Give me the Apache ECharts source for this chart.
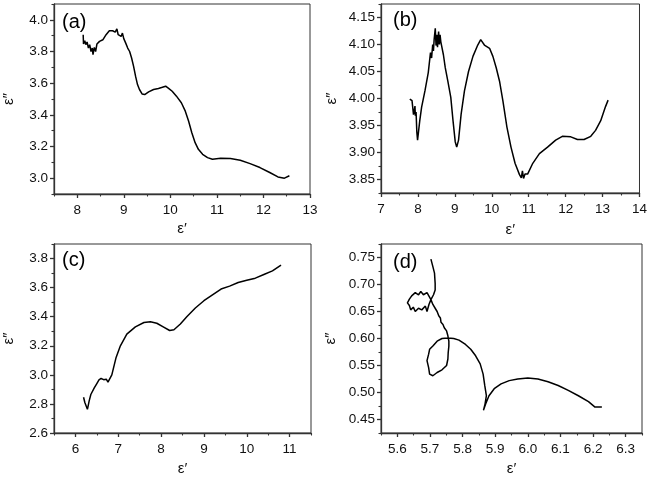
<!DOCTYPE html>
<html>
<head>
<meta charset="utf-8">
<script src="https://cdn.jsdelivr.net/npm/echarts@6/dist/echarts.min.js"></script>
<style>html,body{margin:0;padding:0;background:#fff}#c{width:650px;height:477px}</style>
</head>
<body>
<div id="c"></div>
<script>
// ---------- Panel (a) ----------
const aEps1 = [8.127,8.134,8.162,8.183,8.211,8.239,8.267,8.295,8.323,8.338,8.366,8.394,8.422,8.478,8.549,8.619,8.689,8.759,8.816,8.851,8.879,8.914,8.942,8.970,8.999,9.041,9.083,9.125,9.167,9.21,9.252,9.294,9.336,9.392,9.449,9.533,9.639,9.744,9.828,9.899,9.969,10.039,10.131,10.236,10.321,10.391,10.461,10.532,10.602,10.693,10.799,10.904,11.08,11.291,11.502,11.713,11.924,12.135,12.311,12.451,12.557];
const aEps2 = [3.906,3.847,3.868,3.843,3.860,3.822,3.843,3.800,3.822,3.780,3.826,3.800,3.847,3.864,3.874,3.906,3.931,3.931,3.922,3.943,3.906,3.916,3.895,3.916,3.881,3.853,3.822,3.800,3.759,3.706,3.644,3.591,3.560,3.532,3.528,3.545,3.560,3.566,3.574,3.581,3.566,3.549,3.518,3.476,3.423,3.361,3.287,3.224,3.182,3.151,3.130,3.119,3.126,3.124,3.113,3.092,3.067,3.036,3.008,3.000,3.015];
const aXTicks = ['8','9','10','11','12','13'];
const aXMinor = [7.5,8.5,9.5,10.5,11.5,12.5];
const aYTicks = ['3.0','3.2','3.4','3.6','3.8','4.0'];
const aYMinor = [2.9,3.1,3.3,3.5,3.7,3.9,4.1];

// ---------- Panel (b) ----------
const bEps1 = [7.78,7.84,7.88,7.90,7.92,7.93,7.95,7.97,7.99,8.02,8.05,8.10,8.19,8.28,8.34,8.37,8.40,8.42,8.44,8.47,8.49,8.51,8.53,8.56,8.58,8.60,8.62,8.69,8.74,8.81,8.89,8.95,9.01,9.05,9.10,9.17,9.26,9.37,9.49,9.62,9.70,9.80,9.94,10.03,10.12,10.21,10.30,10.41,10.52,10.63,10.75,10.80,10.83,10.86,10.90,10.97,11.11,11.29,11.51,11.73,11.91,12.14,12.32,12.50,12.68,12.81,12.95,13.08,13.15];
const bEps2 = [3.999,3.996,3.970,3.977,3.986,3.968,3.975,3.938,3.923,3.941,3.959,3.984,4.014,4.048,4.085,4.075,4.100,4.088,4.110,4.130,4.098,4.118,4.095,4.124,4.100,4.118,4.105,4.081,4.057,4.032,4.002,3.959,3.920,3.910,3.923,3.971,4.014,4.050,4.078,4.099,4.109,4.099,4.093,4.078,4.057,4.032,3.996,3.947,3.910,3.880,3.859,3.853,3.866,3.852,3.860,3.860,3.880,3.898,3.910,3.923,3.930,3.929,3.924,3.924,3.930,3.941,3.959,3.985,3.997];
const bXTicks = ['7','8','9','10','11','12','13','14'];
const bXMinor = [7.5,8.5,9.5,10.5,11.5,12.5,13.5];
const bYTicks = ['3.85','3.90','3.95','4.00','4.05','4.10','4.15'];
const bYMinor = [3.825,3.875,3.925,3.975,4.025,4.075,4.125,4.175];

// ---------- Panel (c) ----------
const cEps1 = [6.19,6.22,6.25,6.28,6.30,6.32,6.36,6.44,6.50,6.55,6.60,6.66,6.72,6.76,6.80,6.85,6.95,7.05,7.20,7.40,7.60,7.75,7.90,8.05,8.20,8.30,8.45,8.60,8.80,9.00,9.20,9.40,9.60,9.80,10.00,10.20,10.40,10.60,10.80];
const cEps2 = [2.846,2.810,2.797,2.763,2.790,2.819,2.865,2.910,2.940,2.965,2.975,2.967,2.970,2.950,2.960,3.000,3.120,3.200,3.280,3.330,3.360,3.365,3.355,3.330,3.305,3.310,3.350,3.400,3.460,3.510,3.550,3.590,3.610,3.635,3.650,3.665,3.690,3.715,3.755];
const cXTicks = ['6','7','8','9','10','11'];
const cXMinor = [5.5,6.5,7.5,8.5,9.5,10.5,11.5];
const cYTicks = ['2.6','2.8','3.0','3.2','3.4','3.6','3.8'];
const cYMinor = [2.7,2.9,3.1,3.3,3.5,3.7,3.9];

// ---------- Panel (d) ----------
const dEps1 = [5.703,5.709,5.714,5.716,5.722,5.716,5.711,5.703,5.699,5.691,5.680,5.672,5.665,5.655,5.644,5.637,5.631,5.637,5.641,5.649,5.655,5.665,5.675,5.686,5.691,5.697,5.703,5.709,5.716,5.722,5.727,5.732,5.734,5.740,5.744,5.751,5.755,5.758,5.758,5.756,5.755,5.751,5.737,5.722,5.709,5.699,5.696,5.691,5.696,5.699,5.709,5.722,5.737,5.755,5.773,5.789,5.809,5.825,5.840,5.854,5.863,5.868,5.873,5.869,5.864,5.871,5.881,5.897,5.918,5.943,5.969,6.000,6.031,6.062,6.093,6.124,6.155,6.186,6.206,6.227];
const dEps2 = [0.747,0.733,0.721,0.702,0.702,0.690,0.681,0.672,0.675,0.685,0.681,0.687,0.681,0.685,0.679,0.673,0.666,0.661,0.653,0.658,0.650,0.656,0.653,0.660,0.650,0.663,0.672,0.663,0.656,0.650,0.642,0.638,0.630,0.626,0.620,0.614,0.605,0.595,0.586,0.574,0.562,0.550,0.542,0.537,0.531,0.534,0.546,0.559,0.571,0.580,0.586,0.595,0.600,0.601,0.600,0.597,0.589,0.580,0.568,0.553,0.534,0.513,0.494,0.479,0.467,0.479,0.494,0.507,0.516,0.522,0.525,0.527,0.525,0.520,0.513,0.504,0.494,0.483,0.473,0.473];
const dXTicks = ['5.6','5.7','5.8','5.9','6.0','6.1','6.2','6.3'];
const dXMinor = [5.55,5.65,5.75,5.85,5.95,6.05,6.15,6.25,6.35];
const dYTicks = ['0.45','0.50','0.55','0.60','0.65','0.70','0.75'];
const dYMinor = [0.425,0.475,0.525,0.575,0.625,0.675,0.725,0.775];

const panelLabels = ['(a)','(b)','(c)','(d)'];
const xName = 'ε′';
const yName = 'ε″';

const panels = [
  {x:aEps1,y:aEps2,xt:aXTicks,xm:aXMinor,yt:aYTicks,ym:aYMinor,grid:{left:51,top:4,width:259,height:190},xr:[7.5,13],yr:[2.9,4.1],yGap:38,xGap:27,lab:[57,7]},
  {x:bEps1,y:bEps2,xt:bXTicks,xm:bXMinor,yt:bYTicks,ym:bYMinor,grid:{left:381,top:4,width:261,height:189},xr:[7,14],yr:[3.825,4.175],yGap:42,xGap:29,lab:[388,5]},
  {x:cEps1,y:cEps2,xt:cXTicks,xm:cXMinor,yt:cYTicks,ym:cYMinor,grid:{left:51,top:244,width:260,height:191},xr:[5.5,11.5],yr:[2.6,3.9],yGap:38,xGap:28,lab:[57,245]},
  {x:dEps1,y:dEps2,xt:dXTicks,xm:dXMinor,yt:dYTicks,ym:dYMinor,grid:{left:381,top:244,width:261,height:191},xr:[5.55,6.35],yr:[0.425,0.775],yGap:43,xGap:28,lab:[388,247]}
];

const AX = '#333';
const FONT = 'Liberation Sans, Arial, sans-serif';
const grids=[], xAxes=[], yAxes=[], series=[], titles=[];
panels.forEach((p,i)=>{
  grids.push(Object.assign({show:true,borderColor:AX,borderWidth:1,backgroundColor:'transparent'},p.grid));
  const xVals = p.xt.map(Number), yVals = p.yt.map(Number);
  const xDec = (p.xt[0].split('.')[1]||'').length, yDec = (p.yt[0].split('.')[1]||'').length;
  xAxes.push({type:'value',gridIndex:i,min:p.xr[0],max:p.xr[1],
    name:xName,nameLocation:'middle',nameGap:p.xGap,nameTextStyle:{fontFamily:FONT,fontSize:15,color:'#111'},
    axisLine:{show:true,onZero:false,lineStyle:{color:AX,width:1.3}},
    axisTick:{show:true,inside:false,length:4,customValues:xVals,lineStyle:{color:AX,width:1.3}},
    axisLabel:{show:true,customValues:xVals,margin:9,fontFamily:FONT,fontSize:13.5,color:'#111',formatter:v=>v.toFixed(xDec)},
    splitLine:{show:false}});
  xAxes.push({type:'value',gridIndex:i,min:p.xr[0],max:p.xr[1],position:'bottom',
    axisLine:{show:false,onZero:false},
    axisTick:{show:true,length:2.5,customValues:p.xm,lineStyle:{color:AX,width:1.1}},
    axisLabel:{show:false},splitLine:{show:false}});
  yAxes.push({type:'value',gridIndex:i,min:p.yr[0],max:p.yr[1],
    name:yName,nameLocation:'middle',nameGap:p.yGap,nameRotate:90,nameTextStyle:{fontFamily:FONT,fontSize:15,color:'#111'},
    axisLine:{show:true,onZero:false,lineStyle:{color:AX,width:1.3}},
    axisTick:{show:true,length:4,customValues:yVals,lineStyle:{color:AX,width:1.3}},
    axisLabel:{show:true,customValues:yVals,margin:6,fontFamily:FONT,fontSize:13.5,color:'#111',formatter:v=>v.toFixed(yDec)},
    splitLine:{show:false}});
  yAxes.push({type:'value',gridIndex:i,min:p.yr[0],max:p.yr[1],position:'left',
    axisLine:{show:false,onZero:false},
    axisTick:{show:true,length:2.5,customValues:p.ym,lineStyle:{color:AX,width:1.1}},
    axisLabel:{show:false},splitLine:{show:false}});
  series.push({type:'line',xAxisIndex:2*i,yAxisIndex:2*i,showSymbol:false,symbol:'none',
    lineStyle:{color:'#000',width:1.5},data:p.x.map((v,k)=>[v,p.y[k]]),animation:false});
  titles.push({text:panelLabels[i],left:p.lab[0],top:p.lab[1],textStyle:{fontFamily:FONT,fontSize:20,fontWeight:'normal',color:'#000'}});
});

const chart = echarts.init(document.getElementById('c'),null,{renderer:'canvas'});
chart.setOption({animation:false,backgroundColor:'#fff',title:titles,grid:grids,xAxis:xAxes,yAxis:yAxes,series:series});
</script>
</body>
</html>
